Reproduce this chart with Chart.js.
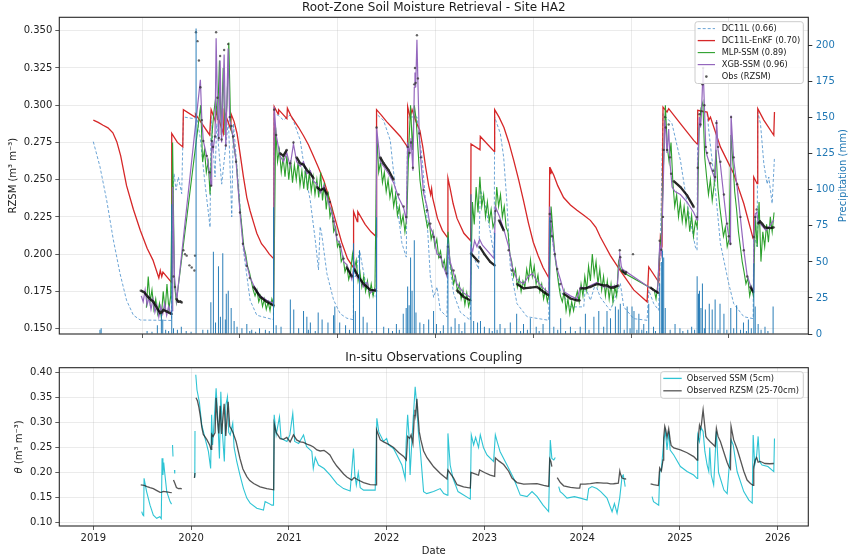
<!DOCTYPE html>
<html><head><meta charset="utf-8">
<script src="https://cdn.jsdelivr.net/npm/chart.js@4.4.1/dist/chart.umd.min.js"></script>
<style>
html,body{margin:0;padding:0;background:#fff;width:851px;height:554px;overflow:hidden;}
canvas{position:absolute;left:0;}
#c1{top:0}
#c2{top:345px}
</style></head><body>
<canvas id="c1" width="851" height="345"></canvas>
<canvas id="c2" width="851" height="209"></canvas>
<script>
// ---------- DATA (decimal year, value) ----------
const yearTicks = [2019, 2020, 2021, 2022, 2023, 2024, 2025, 2026];
const rzsmTicks = [0.150, 0.175, 0.200, 0.225, 0.250, 0.275, 0.300, 0.325, 0.350];
const precipTicks = [0, 25, 50, 75, 100, 125, 150, 175, 200];
const thetaTicks = [0.10, 0.15, 0.20, 0.25, 0.30, 0.35, 0.40];

const dc11l = [
[2019.000,0.2755],[2019.068,0.2587],[2019.136,0.2364],[2019.205,0.2095],[2019.273,0.187],[2019.34,0.169],[2019.41,0.159],[2019.48,0.1558],[2019.80,0.1555],
[2019.812,0.238],[2019.826,0.254],[2019.846,0.243],[2019.87,0.2518],[2019.904,0.2406],[2019.921,0.2921],[2020.024,0.291],[2020.058,0.292],[2020.092,0.2787],[2020.143,0.247],[2020.194,0.218],
[2020.204,0.293],[2020.245,0.2518],[2020.262,0.2876],[2020.313,0.247],[2020.382,0.2898],[2020.416,0.225],[2020.433,0.2876],[2020.484,0.247],[2020.535,0.2026],[2020.604,0.169],[2020.672,0.159],[2020.842,0.156],
[2020.85,0.2945],[2020.894,0.293],[2020.945,0.290],[2021.013,0.2934],[2021.05,0.289],[2021.116,0.2766],[2021.167,0.254],[2021.218,0.2364],[2021.27,0.2095],[2021.303,0.1894],[2021.32,0.2185],[2021.335,0.214],[2021.389,0.187],[2021.457,0.1693],[2021.525,0.160],[2021.593,0.157],[2021.66,0.156],
[2021.662,0.198],[2021.679,0.1847],[2021.723,0.2026],[2021.798,0.1758],[2021.894,0.171],
[2021.897,0.294],[2021.969,0.2898],[2022.037,0.2764],[2022.105,0.234],[2022.157,0.2071],[2022.201,0.198],
[2022.215,0.2921],[2022.31,0.2921],[2022.361,0.2652],[2022.412,0.225],[2022.447,0.1847],[2022.481,0.171],[2022.515,0.178],[2022.549,0.1623],[2022.617,0.1579],
[2022.627,0.2026],[2022.685,0.1735],[2022.754,0.161],[2022.856,0.1556],
[2022.863,0.2026],[2022.94,0.19],[2022.958,0.243],[2023.0,0.236],[2023.06,0.215],[2023.10,0.198],
[2023.105,0.292],[2023.163,0.281],[2023.197,0.2652],[2023.231,0.234],[2023.265,0.1914],[2023.333,0.1668],[2023.436,0.158],[2023.658,0.1556],
[2023.668,0.225],[2023.709,0.2026],[2023.777,0.1758],[2023.879,0.1646],[2024.016,0.1646],[2024.033,0.178],[2024.084,0.169],[2024.135,0.18],[2024.186,0.171],[2024.255,0.165],[2024.288,0.1623],[2024.391,0.1802],[2024.425,0.1646],[2024.527,0.1567],[2024.664,0.1556],
[2024.681,0.1758],[2024.732,0.1668],[2024.783,0.1623],[2024.80,0.2071],[2024.827,0.2943],[2024.919,0.2876],[2025.005,0.263],[2025.073,0.234],[2025.158,0.2048],[2025.175,0.2026],
[2025.182,0.2966],[2025.278,0.2943],[2025.30,0.28],[2025.363,0.2429],[2025.414,0.2071],[2025.499,0.1802],[2025.55,0.1668],[2025.653,0.158],[2025.749,0.1567],
[2025.755,0.2138],[2025.79,0.205],[2025.796,0.2954],[2025.824,0.2876],[2025.858,0.2608],[2025.892,0.247],[2025.909,0.2518],[2025.943,0.234],[2025.967,0.2652]
];

const enkf = [
[2019.000,0.290],[2019.05,0.2885],[2019.10,0.2865],[2019.15,0.2848],[2019.20,0.2815],[2019.24,0.2755],[2019.28,0.266],[2019.34,0.246],[2019.41,0.230],[2019.48,0.216],[2019.55,0.204],[2019.61,0.196],[2019.67,0.184],[2019.685,0.189],[2019.70,0.185],[2019.712,0.188],[2019.80,0.181],
[2019.802,0.281],[2019.86,0.275],[2019.915,0.272],[2019.921,0.297],[2020.04,0.292],[2020.045,0.294],[2020.19,0.280],
[2020.205,0.297],[2020.25,0.289],[2020.256,0.296],[2020.33,0.281],[2020.338,0.296],[2020.405,0.284],[2020.41,0.294],[2020.44,0.289],
[2020.47,0.281],[2020.50,0.268],[2020.535,0.252],[2020.57,0.238],[2020.604,0.229],[2020.64,0.221],[2020.672,0.214],[2020.72,0.207],[2020.757,0.204],[2020.80,0.200],[2020.845,0.197],
[2020.85,0.299],[2020.89,0.294],[2020.895,0.297],[2020.98,0.291],[2020.985,0.298],[2021.02,0.293],[2021.10,0.285],[2021.15,0.2795],[2021.20,0.2735],[2021.25,0.266],[2021.30,0.2585],[2021.36,0.249],[2021.42,0.236],[2021.48,0.222],[2021.54,0.208],[2021.60,0.197],[2021.66,0.191],
[2021.662,0.2285],[2021.70,0.2218],[2021.705,0.2285],[2021.78,0.220],[2021.84,0.215],[2021.895,0.2117],
[2021.897,0.297],[2021.95,0.293],[2022.00,0.289],[2022.07,0.284],[2022.14,0.279],[2022.213,0.272],
[2022.215,0.299],[2022.24,0.292],[2022.26,0.297],[2022.30,0.289],[2022.34,0.283],[2022.37,0.272],[2022.40,0.258],[2022.43,0.246],[2022.45,0.240],[2022.46,0.244],[2022.47,0.238],[2022.52,0.224],[2022.57,0.216],[2022.625,0.211],
[2022.627,0.251],[2022.65,0.244],[2022.68,0.234],[2022.72,0.224],[2022.79,0.214],[2022.86,0.209],
[2022.863,0.274],[2022.955,0.270],[2022.958,0.279],[2023.10,0.269],
[2023.105,0.297],[2023.15,0.292],[2023.20,0.285],[2023.25,0.275],[2023.30,0.263],[2023.35,0.250],[2023.40,0.236],[2023.45,0.221],[2023.50,0.208],[2023.55,0.199],[2023.60,0.191],[2023.66,0.184],
[2023.668,0.2585],[2023.675,0.254],[2023.68,0.257],[2023.71,0.253],[2023.75,0.246],[2023.81,0.238],[2023.88,0.233],[2023.947,0.2295],[2024.02,0.226],[2024.084,0.2227],[2024.14,0.218],[2024.186,0.2115],[2024.24,0.205],[2024.289,0.199],[2024.39,0.189],[2024.527,0.176],[2024.664,0.168],
[2024.681,0.1914],[2024.783,0.1813],[2024.80,0.2115],[2024.817,0.207],[2024.827,0.2988],[2024.868,0.2954],[2024.885,0.2977],[2025.005,0.2876],[2025.141,0.2764],[2025.175,0.274],
[2025.182,0.2966],[2025.278,0.2954],[2025.295,0.290],[2025.312,0.292],[2025.414,0.272],[2025.55,0.254],[2025.653,0.234],[2025.749,0.2104],
[2025.755,0.2518],[2025.789,0.2473],[2025.796,0.2977],[2025.858,0.290],[2025.96,0.2798],[2025.967,0.2954]
];

// MLP-SSM: weekly retrievals (null = no retrieval)
const mlpStart = 2019.485;
const mlpStepDays = 7;
const mlpValues = [
null,null,null,0.164,0.185,0.168,0.176,0.163,0.170,0.160,
0.167,0.158,0.175,0.162,0.180,0.163,0.172,0.275,0.180,0.168,
null,null,null,null,null,null,null,null,null,null,
null,null,0.300,0.262,0.270,0.255,0.262,0.240,0.280,0.295,
0.305,0.290,0.330,0.280,0.325,0.280,0.300,0.342,0.285,0.280,
0.270,0.262,0.245,0.230,0.218,0.205,0.200,0.192,0.188,0.182,
0.176,0.172,0.176,0.168,0.172,0.165,0.170,0.163,0.168,0.162,
0.170,0.166,0.285,0.262,0.270,0.255,0.265,0.252,0.266,0.250,
0.263,0.248,0.260,0.250,0.262,0.246,0.256,0.244,0.258,0.243,
0.255,0.242,0.252,0.240,0.250,0.238,0.255,0.236,0.248,0.230,
0.242,0.225,0.230,0.215,0.218,0.205,0.208,0.195,0.198,0.188,
0.192,0.183,0.188,0.200,0.190,0.196,0.182,0.188,0.178,0.185,
0.175,0.182,0.172,0.180,0.172,0.178,0.280,0.255,0.262,0.248,
0.255,0.242,0.250,0.238,0.245,0.232,0.240,0.226,0.232,0.220,
0.226,0.215,0.225,0.270,0.300,0.270,0.300,0.290,0.270,0.250,
0.240,0.232,0.225,0.218,0.222,0.210,0.215,0.205,0.210,0.198,
0.202,0.192,0.196,0.187,0.215,0.195,0.188,0.180,0.185,0.175,
0.180,0.170,0.176,0.166,0.174,0.165,0.170,0.235,0.220,0.245,
0.228,0.252,0.232,0.240,0.225,0.235,0.222,0.230,0.218,0.222,
0.245,0.232,0.240,0.225,0.232,0.218,0.215,0.200,0.195,0.185,
0.190,0.178,0.184,0.175,0.182,0.178,0.190,0.183,0.196,0.185,
0.192,0.180,0.186,0.175,0.180,0.170,0.176,0.168,0.174,0.232,
0.215,0.200,0.190,0.180,0.172,0.168,0.175,0.162,0.170,0.160,
0.168,0.162,0.170,0.175,0.168,0.180,0.172,0.185,0.176,0.192,
0.182,0.200,0.186,0.195,0.180,0.190,0.176,0.185,0.172,0.182,
0.170,0.180,0.168,0.178,0.172,0.195,0.190,0.188,null,null,
null,null,null,null,null,null,null,null,null,null,
null,null,null,null,0.176,0.170,0.180,0.205,0.215,0.260,
0.300,0.272,0.262,0.275,0.248,0.232,0.240,0.225,0.235,0.222,
0.232,0.220,0.230,0.215,0.226,0.212,0.222,0.218,0.285,0.298,
0.302,0.265,0.252,0.240,0.250,0.236,0.246,0.270,0.245,0.232,
0.222,0.212,0.218,0.205,0.210,0.280,0.262,0.242,0.230,0.215,
0.205,0.195,0.188,0.180,0.184,0.172,0.178,0.172,0.225,0.205,
0.235,0.195,0.215,0.205,0.220,0.208,0.225,0.215,0.228
];

const xgb = [
[2019.49,0.172],[2019.51,0.168],[2019.53,0.176],[2019.55,0.166],[2019.57,0.171],[2019.59,0.163],[2019.61,0.170],[2019.63,0.161],[2019.65,0.166],[2019.67,0.158],[2019.69,0.165],[2019.71,0.160],[2019.73,0.167],[2019.75,0.159],[2019.77,0.165],[2019.79,0.160],[2019.805,0.162],[2019.812,0.245],[2019.83,0.185],[2019.853,0.169],
[2020.095,0.317],[2020.11,0.29],[2020.125,0.276],[2020.16,0.266],[2020.19,0.254],[2020.204,0.246],
[2020.211,0.276],[2020.225,0.270],[2020.245,0.280],[2020.256,0.345],[2020.27,0.300],[2020.283,0.276],[2020.297,0.330],[2020.312,0.275],[2020.338,0.334],[2020.355,0.272],[2020.379,0.338],[2020.395,0.29],[2020.413,0.285],[2020.43,0.278],[2020.46,0.262],[2020.50,0.228],[2020.53,0.207],[2020.57,0.193],[2020.60,0.185],[2020.64,0.179],[2020.706,0.172],[2020.774,0.169],[2020.845,0.167],
[2020.85,0.299],[2020.87,0.28],[2020.91,0.266],[2020.945,0.262],[2020.979,0.268],[2021.013,0.259],[2021.047,0.274],[2021.08,0.262],[2021.116,0.259],[2021.15,0.262],[2021.184,0.254],[2021.22,0.256],[2021.252,0.249],[2021.287,0.247],[2021.32,0.241],[2021.36,0.246],[2021.39,0.238],[2021.42,0.232],[2021.457,0.224],[2021.49,0.21],[2021.525,0.207],[2021.56,0.195],[2021.593,0.193],[2021.644,0.183],[2021.668,0.193],[2021.70,0.184],[2021.73,0.183],[2021.764,0.178],[2021.80,0.181],[2021.832,0.174],[2021.893,0.177],
[2021.897,0.285],[2021.935,0.262],[2021.969,0.259],[2022.02,0.254],[2022.071,0.248],[2022.122,0.238],[2022.174,0.231],[2022.201,0.223],[2022.215,0.275],[2022.235,0.267],[2022.25,0.278],[2022.269,0.256],[2022.283,0.312],[2022.29,0.322],[2022.297,0.312],[2022.31,0.344],[2022.32,0.315],[2022.334,0.279],[2022.35,0.263],[2022.378,0.241],[2022.413,0.232],[2022.447,0.218],[2022.481,0.213],[2022.515,0.20],[2022.549,0.199],[2022.58,0.192],[2022.617,0.185],[2022.627,0.207],[2022.65,0.195],[2022.685,0.187],[2022.72,0.180],[2022.787,0.174],[2022.856,0.171],
[2022.863,0.205],[2022.88,0.202],[2022.90,0.209],[2022.924,0.205],[2022.951,0.210],[2022.98,0.206],[2023.02,0.203],[2023.06,0.200],[2023.10,0.197],
[2023.112,0.232],[2023.15,0.226],[2023.197,0.217],[2023.248,0.205],[2023.282,0.192],[2023.333,0.183],[2023.40,0.180],[2023.45,0.185],[2023.49,0.187],[2023.538,0.182],[2023.606,0.177],[2023.658,0.174],
[2023.668,0.232],[2023.69,0.214],[2023.72,0.200],[2023.745,0.19],[2023.777,0.183],[2023.811,0.175],[2023.88,0.172],[2023.947,0.17],[2023.982,0.178],[2024.03,0.177],[2024.084,0.179],[2024.152,0.181],[2024.22,0.178],[2024.29,0.178],[2024.36,0.179],[2024.385,0.20],[2024.40,0.192],[2024.41,0.19],
[2024.77,0.174],[2024.793,0.206],[2024.81,0.20],[2024.827,0.24],[2024.845,0.29],[2024.855,0.283],[2024.868,0.268],[2024.885,0.284],[2024.90,0.26],[2024.92,0.245],[2024.95,0.242],[2025.005,0.240],[2025.073,0.235],[2025.141,0.228],[2025.175,0.223],[2025.182,0.26],[2025.20,0.292],[2025.21,0.285],[2025.22,0.294],[2025.237,0.325],[2025.25,0.30],[2025.265,0.27],[2025.278,0.266],[2025.312,0.259],[2025.36,0.25],[2025.375,0.29],[2025.39,0.27],[2025.414,0.26],[2025.45,0.238],[2025.482,0.219],[2025.517,0.206],[2025.523,0.293],[2025.55,0.263],[2025.585,0.245],[2025.619,0.224],[2025.653,0.203],[2025.687,0.186],[2025.721,0.179],[2025.749,0.176],[2025.755,0.213],[2025.77,0.227],[2025.785,0.228],[2025.80,0.222],[2025.84,0.219],[2025.88,0.216],[2025.92,0.219],[2025.96,0.223]
];

const obsRZSM = [
[2019.485,0.1755],[2019.52,0.1745],[2019.55,0.172],[2019.58,0.170],[2019.614,0.168],[2019.65,0.164],[2019.683,0.1605],[2019.70,0.161],[2019.716,0.1625],[2019.75,0.1615],[2019.78,0.1605],[2019.802,0.1599],[2019.81,null],
[2019.82,0.185],[2019.835,0.178],[2019.85,0.170],[2019.87,0.168],[2019.89,0.1683],[2019.905,0.1675],[2019.913,null],
[2019.921,0.2026],[2019.93,null],[2019.938,0.200],[2019.946,null],[2019.955,0.199],[2019.97,null],[2019.983,0.1925],[2019.995,null],[2020.006,0.191],[2020.02,null],
[2020.034,0.189],[2020.04,0.199],[2020.045,null],
[2020.05,0.349],[2020.065,0.343],[2020.08,0.330],[2020.095,0.312],[2020.11,0.290],[2020.125,0.276],[2020.16,0.266],[2020.19,0.255],[2020.204,0.246],
[2020.211,0.276],[2020.225,0.272],[2020.245,0.279],[2020.256,0.349],[2020.27,0.305],[2020.283,0.278],[2020.297,0.333],[2020.312,0.277],[2020.338,0.337],[2020.355,0.273],[2020.379,0.341],[2020.395,0.292],[2020.413,0.286],[2020.43,0.279],[2020.46,0.262],[2020.50,0.228],[2020.53,0.207],[2020.57,0.192],[2020.60,0.184],[2020.64,0.178],[2020.706,0.1715],[2020.774,0.168],[2020.845,0.1655],
[2020.85,0.297],[2020.87,0.280],[2020.911,0.2677],[2020.945,0.266],[2020.979,0.270],[2021.013,0.261],[2021.047,0.275],[2021.08,0.265],[2021.116,0.261],[2021.15,0.260],[2021.184,0.2565],[2021.22,0.254],[2021.252,0.251],[2021.287,0.245],[2021.32,0.243],[2021.36,0.244],[2021.39,0.240],[2021.42,0.235],[2021.457,0.222],[2021.49,0.213],[2021.525,0.205],[2021.56,0.197],[2021.593,0.191],[2021.644,0.185],[2021.668,0.190],[2021.70,0.186],[2021.764,0.180],[2021.832,0.176],[2021.893,0.1755],
[2021.897,0.285],[2021.935,0.265],[2021.969,0.261],[2022.02,0.2563],[2022.071,0.250],[2022.122,0.240],[2022.174,0.232],[2022.201,0.225],
[2022.215,0.272],[2022.235,0.268],[2022.25,0.275],[2022.269,0.258],[2022.283,0.314],[2022.29,0.325],[2022.297,0.315],[2022.31,0.347],[2022.32,0.318],[2022.334,0.281],[2022.35,0.265],[2022.378,0.243],[2022.413,0.2295],[2022.447,0.2205],[2022.481,0.2115],[2022.549,0.198],[2022.617,0.187],[2022.627,0.205],[2022.685,0.189],[2022.72,0.1757],[2022.787,0.1713],[2022.856,0.169],
[2022.863,0.2004],[2022.924,0.196],[2022.94,0.195],[2022.951,0.205],[2023.0,0.200],[2023.06,0.1948],[2023.105,0.1925],
[2023.112,0.229],[2023.15,0.2227],[2023.197,0.216],[2023.248,0.2026],[2023.282,0.189],[2023.333,0.180],[2023.402,0.177],[2023.47,0.1775],[2023.538,0.178],[2023.606,0.1746],[2023.658,0.1724],
[2023.668,0.227],[2023.68,0.222],[2023.69,0.212],[2023.70,null],[2023.72,0.200],[2023.73,null],
[2023.745,0.190],[2023.777,0.180],[2023.811,0.1735],[2023.88,0.1702],[2023.947,0.169],[2023.975,0.169],[2023.982,0.177],[2024.03,0.177],[2024.084,0.178],[2024.152,0.180],[2024.22,0.179],[2024.255,0.179],[2024.29,0.1775],[2024.322,0.1776],[2024.37,0.179],[2024.385,0.2026],[2024.39,0.198],[2024.408,0.189],[2024.44,0.187],[2024.45,0.188],[2024.46,null],[2024.52,0.200],[2024.53,null],
[2024.70,0.1775],[2024.73,0.176],[2024.78,0.174],[2024.793,0.209],[2024.81,0.203],[2024.827,0.225],[2024.834,0.27],[2024.845,0.292],[2024.855,0.285],[2024.868,0.270],[2024.885,0.287],[2024.90,0.265],[2024.91,0.254],[2024.937,0.249],[2025.005,0.245],[2025.073,0.2395],[2025.141,0.2317],[2025.175,0.225],
[2025.182,0.258],[2025.20,0.294],[2025.21,0.287],[2025.22,0.296],[2025.23,0.314],[2025.237,0.325],[2025.25,0.30],[2025.265,0.272],[2025.278,0.268],[2025.312,0.261],[2025.34,0.256],[2025.36,0.2518],[2025.373,0.288],[2025.39,0.272],[2025.414,0.262],[2025.45,0.240],[2025.482,0.2205],[2025.50,0.212],[2025.517,0.207],[2025.523,0.292],[2025.55,0.265],[2025.585,0.247],[2025.619,0.225],[2025.653,0.2026],[2025.687,0.185],[2025.721,0.178],[2025.749,0.1746],
[2025.755,0.2115],[2025.77,0.225],[2025.785,0.23],[2025.80,0.2205],[2025.82,0.222],[2025.841,0.2205],[2025.87,0.218],[2025.92,0.2175],[2025.96,0.218]
];

const obsSSM = [
[2019.495,0.122],[2019.505,0.116],[2019.515,0.114],[2019.519,0.1885],[2019.545,0.162],[2019.58,0.135],[2019.614,0.115],[2019.648,0.1087],[2019.68,0.112],[2019.695,0.108],[2019.703,0.2284],[2019.712,0.195],[2019.72,0.22],[2019.73,0.20],[2019.751,0.162],[2019.785,0.142],[2019.80,0.137],[2019.805,null],
[2019.81,0.255],[2019.815,0.232],[2019.82,null],[2019.83,0.205],[2019.833,0.198],[2019.84,null],
[2020.038,0.19],[2020.04,0.283],[2020.044,null],
[2020.048,0.395],[2020.06,0.365],[2020.085,0.34],[2020.109,0.295],[2020.143,0.268],[2020.177,0.242],[2020.2,0.208],[2020.21,0.315],[2020.22,0.255],[2020.235,0.30],[2020.256,0.368],[2020.27,0.32],[2020.29,0.228],[2020.304,0.361],[2020.32,0.28],[2020.34,0.222],[2020.355,0.334],[2020.372,0.351],[2020.385,0.28],[2020.40,0.275],[2020.426,0.298],[2020.44,0.25],[2020.467,0.222],[2020.50,0.195],[2020.536,0.168],[2020.57,0.149],[2020.604,0.139],[2020.672,0.1287],[2020.74,0.125],[2020.757,0.142],[2020.79,0.139],[2020.826,0.135],[2020.843,0.135],
[2020.85,0.315],[2020.87,0.275],[2020.904,0.311],[2020.92,0.268],[2020.98,0.262],[2021.01,0.275],[2021.04,0.318],[2021.06,0.262],[2021.10,0.258],[2021.15,0.275],[2021.18,0.252],[2021.235,0.242],[2021.25,0.208],[2021.27,0.23],[2021.303,0.215],[2021.36,0.208],[2021.423,0.195],[2021.491,0.178],[2021.559,0.168],[2021.627,0.163],[2021.661,0.248],[2021.675,0.195],[2021.69,0.175],[2021.71,0.2],[2021.73,0.17],[2021.764,0.165],[2021.883,0.165],
[2021.9,0.308],[2021.92,0.281],[2021.968,0.262],[2022.0,0.268],[2022.02,0.255],[2022.07,0.248],[2022.105,0.235],[2022.156,0.215],[2022.19,0.188],[2022.2,0.262],[2022.215,0.315],[2022.23,0.27],[2022.24,0.195],[2022.26,0.27],[2022.292,0.371],[2022.31,0.33],[2022.325,0.28],[2022.343,0.248],[2022.378,0.162],[2022.41,0.158],[2022.48,0.162],[2022.548,0.168],[2022.584,0.158],[2022.62,0.155],[2022.627,0.278],[2022.65,0.215],[2022.68,0.188],[2022.73,0.162],[2022.856,0.147],
[2022.866,0.275],[2022.89,0.255],[2022.91,0.27],[2022.94,0.25],[2022.958,0.275],[2022.99,0.25],[2023.026,0.235],[2023.094,0.222],[2023.112,0.275],[2023.13,0.262],[2023.16,0.242],[2023.231,0.215],[2023.30,0.188],[2023.367,0.155],[2023.436,0.152],[2023.487,0.162],[2023.54,0.152],[2023.60,0.135],[2023.657,0.122],[2023.674,0.265],[2023.69,0.228],[2023.71,0.225],[2023.725,0.23],[2023.735,null],
[2023.76,0.172],[2023.775,0.162],[2023.80,0.158],[2023.845,0.149],[2023.92,0.152],[2023.982,0.149],[2024.05,0.145],[2024.067,0.168],[2024.10,0.172],[2024.15,0.168],[2024.19,0.162],[2024.254,0.149],[2024.306,0.122],[2024.33,0.138],[2024.357,0.119],[2024.384,0.149],[2024.408,0.192],[2024.42,0.195],[2024.43,0.185],[2024.44,0.172],[2024.447,null],[2024.455,0.168],[2024.46,null],
[2024.715,0.152],[2024.73,0.142],[2024.783,0.135],[2024.794,0.2018],[2024.81,0.205],[2024.834,0.262],[2024.852,0.282],[2024.868,0.245],[2024.886,0.282],[2024.90,0.245],[2024.937,0.235],[2025.005,0.212],[2025.073,0.202],[2025.14,0.195],[2025.176,0.188],[2025.182,0.275],[2025.20,0.262],[2025.215,0.29],[2025.237,0.282],[2025.255,0.242],[2025.278,0.215],[2025.295,0.202],[2025.305,0.25],[2025.32,0.195],[2025.345,0.175],[2025.373,0.282],[2025.395,0.2],[2025.45,0.165],[2025.483,0.158],[2025.524,0.265],[2025.545,0.255],[2025.585,0.202],[2025.653,0.162],[2025.705,0.145],[2025.739,0.139],[2025.749,0.275],[2025.765,0.215],[2025.785,0.235],[2025.80,0.272],[2025.815,0.222],[2025.84,0.215],[2025.90,0.212],[2025.96,0.2018],[2025.967,0.268]
];

const precipDate = [
2019.068,2019.08,2019.55,2019.60,2019.655,2019.696,2019.71,2019.74,2019.77,2019.802,2019.82,2019.86,2019.90,2019.95,2020.00,
2020.051,2020.12,2020.17,2020.202,2020.228,2020.25,2020.28,2020.30,2020.324,2020.35,2020.36,2020.38,2020.41,2020.44,2020.47,
2020.52,2020.57,2020.60,2020.62,2020.66,2020.70,2020.76,2020.80,2020.843,2020.87,2020.92,2021.015,2021.05,2021.10,2021.15,
2021.184,2021.20,2021.22,2021.27,2021.30,2021.34,2021.40,2021.457,2021.47,2021.52,2021.58,2021.62,2021.661,2021.68,2021.723,
2021.76,2021.80,2021.85,2021.897,2021.97,2022.02,2022.06,2022.10,2022.13,2022.17,2022.20,2022.215,2022.23,2022.245,2022.26,
2022.283,2022.30,2022.34,2022.38,2022.43,2022.48,2022.51,2022.55,2022.58,2022.627,2022.66,2022.70,2022.74,2022.77,2022.80,
2022.863,2022.89,2022.93,2022.96,2023.00,2023.05,2023.08,2023.105,2023.13,2023.16,2023.21,2023.265,2023.33,2023.37,2023.40,
2023.44,2023.47,2023.53,2023.56,2023.60,2023.668,2023.71,2023.75,2023.78,2023.83,2023.88,2023.93,2023.98,2024.033,2024.07,
2024.12,2024.17,2024.22,2024.254,2024.29,2024.34,2024.37,2024.39,2024.43,2024.46,2024.49,2024.51,2024.53,2024.56,2024.58,
2024.61,2024.63,2024.66,2024.681,2024.73,2024.75,2024.793,2024.81,2024.822,2024.834,2024.85,2024.90,2024.95,2025.00,2025.03,
2025.08,2025.12,2025.15,2025.176,2025.19,2025.20,2025.215,2025.23,2025.25,2025.26,2025.30,2025.33,2025.36,2025.39,2025.41,
2025.45,2025.48,2025.52,2025.55,2025.58,2025.62,2025.65,2025.68,2025.70,2025.73,2025.756,2025.77,2025.80,2025.83,2025.87,
2025.90,2025.953
];
const precipMM = [
3,4,2,1.5,6,14,10,3,2,90,4,3,5,2,1.5,
212,3,3,22,57,8,47,12,56,10,28,30,18,9,5,
4,7,2,3,1.5,4,3,2,88,6,5,24,17,4,16,
12,3,8,2,15,10,8,13,19,8,6,3,63,16,58,
12,8,2,81,5,4,2,7,3,14,18,33,20,53,30,
65,15,8,7,10,16,7,2,6,67,5,11,7,2,8,
97,9,8,9,5,4,2,70,3,7,4,8,14,2,7,
3,11,5,2,7,81,5,3,11,2,5,2,5,14,3,
12,16,5,16,11,19,17,21,3,19,4,19,16,3,14,
3,7,2,21,5,2,35,50,58,53,18,3,7,4,2,
3,5,3,40,28,30,18,35,4,17,21,17,24,3,21,
14,3,18,4,20,3,8,2,10,4,49,19,7,3,5,
2,19
];

// ---------- helpers ----------
const XMIN = 2018.652, XMAX = 2026.313;
const toXY = arr => arr.map(p => ({x: p[0], y: p[1]}));
const mlpXY = mlpValues.map((v, i) => ({x: mlpStart + i * mlpStepDays / 365.25, y: v}));
const precipXY = precipDate.map((d, i) => ({x: d, y: precipMM[i]}));
const FONT = '"DejaVu Sans", "Liberation Sans", sans-serif';
const GRID = 'rgba(176,176,176,0.32)';
const steepHide = c => {
  const dx = Math.abs(c.p1.x - c.p0.x), dy = Math.abs(c.p1.y - c.p0.y);
  return (dy > 5 && dy > 2.2 * dx) ? 'rgba(0,0,0,0)' : undefined;
};
const setTicks = arr => s => { s.ticks = arr.map(v => ({value: v})); };

function roundRect(ctx, x, y, w, h, r) {
  ctx.beginPath();
  ctx.moveTo(x + r, y); ctx.lineTo(x + w - r, y); ctx.quadraticCurveTo(x + w, y, x + w, y + r);
  ctx.lineTo(x + w, y + h - r); ctx.quadraticCurveTo(x + w, y + h, x + w - r, y + h);
  ctx.lineTo(x + r, y + h); ctx.quadraticCurveTo(x, y + h, x, y + h - r);
  ctx.lineTo(x, y + r); ctx.quadraticCurveTo(x, y, x + r, y); ctx.closePath();
}

const annot = {
  id: 'annot',
  afterDraw(chart, args, o) {
    const ctx = chart.ctx, a = chart.chartArea;
    ctx.save();
    ctx.strokeStyle = '#262626'; ctx.lineWidth = 1.1;
    ctx.strokeRect(a.left, a.top, a.right - a.left, a.bottom - a.top);
    ctx.fillStyle = '#1a1a1a'; ctx.textAlign = 'center'; ctx.textBaseline = 'middle';
    ctx.font = '12px ' + FONT;
    ctx.fillText(o.title, (a.left + a.right) / 2, o.titleY);
    ctx.font = '10px ' + FONT;
    const yc = (a.top + a.bottom) / 2;
    ctx.save(); ctx.translate(o.yLabelX, yc); ctx.rotate(-Math.PI / 2);
    if (o.yLabelItalic) {
      ctx.font = 'italic 10px ' + FONT;
      const w1 = ctx.measureText(o.yLabelItalic).width;
      ctx.font = '10px ' + FONT;
      const w2 = ctx.measureText(o.yLabel).width;
      ctx.textAlign = 'left';
      ctx.font = 'italic 10px ' + FONT; ctx.fillText(o.yLabelItalic, -(w1 + w2) / 2, 0);
      ctx.font = '10px ' + FONT; ctx.fillText(o.yLabel, -(w1 + w2) / 2 + w1, 0);
    } else ctx.fillText(o.yLabel, 0, 0);
    ctx.restore();
    if (o.y2Label) {
      ctx.save(); ctx.translate(o.y2LabelX, yc); ctx.rotate(-Math.PI / 2);
      ctx.fillStyle = '#1f77b4'; ctx.textAlign = 'center'; ctx.font = '10px ' + FONT;
      ctx.fillText(o.y2Label, 0, 0); ctx.restore();
    }
    if (o.xLabel) { ctx.textAlign = 'center'; ctx.fillText(o.xLabel, (a.left + a.right) / 2, o.xLabelY); }
    const L = o.legend;
    ctx.fillStyle = 'rgba(255,255,255,0.85)'; ctx.strokeStyle = '#cccccc'; ctx.lineWidth = 1;
    roundRect(ctx, L.x, L.y, L.w, L.h, 2.5); ctx.fill(); ctx.stroke();
    ctx.font = '8.3px ' + FONT; ctx.textAlign = 'left'; ctx.textBaseline = 'middle';
    chart.data.datasets.filter(d => d.inLegend).forEach((d, i) => {
      const y = L.row0 + i * L.dy;
      if (d.legendDot) {
        ctx.fillStyle = 'rgba(50,50,50,0.8)';
        ctx.beginPath(); ctx.arc((L.s0 + L.s1) / 2, y, 1.3, 0, Math.PI * 2); ctx.fill();
      } else {
        ctx.strokeStyle = d.borderColor; ctx.lineWidth = d.legendWidth || d.borderWidth;
        ctx.setLineDash(d.borderDash || []);
        ctx.beginPath(); ctx.moveTo(L.s0, y); ctx.lineTo(L.s1, y); ctx.stroke();
        ctx.setLineDash([]);
      }
      ctx.fillStyle = '#1a1a1a'; ctx.fillText(d.label, L.tx, y + 0.5);
    });
    ctx.restore();
  }
};

const tickFont = {family: FONT, size: 10};

// ---------- TOP CHART ----------
new Chart(document.getElementById('c1'), {
  type: 'line',
  plugins: [annot],
  data: { datasets: [
    {label: 'DC11L (0.66)', data: toXY(dc11l), borderColor: 'rgba(60,135,200,0.75)', borderDash: [3, 2], borderWidth: 1, order: 6, inLegend: true},
    {label: 'DC11L-EnKF (0.70)', data: toXY(enkf), borderColor: '#d62728', borderWidth: 1.3, order: 5, inLegend: true},
    {label: 'MLP-SSM (0.89)', data: mlpXY, borderColor: '#2ca02c', borderWidth: 1.1, spanGaps: true, order: 4, inLegend: true},
    {label: 'XGB-SSM (0.96)', data: toXY(xgb), borderColor: '#9467bd', borderWidth: 1.2, order: 3, inLegend: true},
    {label: 'Obs (RZSM)', data: toXY(obsRZSM), borderColor: 'rgba(0,0,0,0.85)', borderWidth: 2.3, pointRadius: 1.2,
      pointBackgroundColor: 'rgba(50,50,50,0.75)', pointBorderWidth: 0, segment: {borderColor: steepHide}, order: 2, inLegend: true, legendDot: true},
    {type: 'bar', label: 'Precipitation', data: precipXY, yAxisID: 'y1', backgroundColor: 'rgba(31,119,180,0.95)',
      barThickness: 1, maxBarThickness: 1, inflateAmount: 0, borderWidth: 0, grouped: false, order: 1}
  ]},
  options: {
    responsive: false, animation: false, devicePixelRatio: 1, events: [],
    layout: {padding: {top: 17.3, left: 0, right: 0, bottom: 0}},
    elements: {point: {radius: 0}, line: {tension: 0}},
    plugins: {legend: {display: false}, tooltip: {enabled: false},
      annot: {title: 'Root-Zone Soil Moisture Retrieval - Site HA2', titleY: 7.8, yLabel: 'RZSM (m³ m⁻³)', yLabelX: 13,
        y2Label: 'Precipitation (mm)', y2LabelX: 843,
        legend: {x: 695, y: 21.7, w: 108.3, h: 61.8, row0: 28.6, dy: 12, s0: 697.7, s1: 715, tx: 721.7}}},
    scales: {
      x: {type: 'linear', min: XMIN, max: XMAX, offset: false, afterBuildTicks: setTicks(yearTicks), afterFit: s => { s.height = 11; },
        ticks: {callback: () => '', autoSkip: false, maxRotation: 0, font: tickFont},
        grid: {color: GRID, tickColor: '#333', tickLength: 4, lineWidth: 0.8}, border: {display: false}},
      y: {position: 'left', min: 0.1464, max: 0.359, afterBuildTicks: setTicks(rzsmTicks), afterFit: s => { s.width = 59.3; },
        ticks: {callback: v => v.toFixed(3), color: '#222', font: tickFont, padding: 3},
        grid: {color: GRID, tickColor: '#333', tickLength: 4, lineWidth: 0.8}, border: {display: false}},
      y1: {position: 'right', min: 0, max: 219.7, afterBuildTicks: setTicks(precipTicks), afterFit: s => { s.width = 42.7; },
        ticks: {callback: v => String(v), color: '#1f77b4', font: tickFont, padding: 3.4},
        grid: {drawOnChartArea: false, tickColor: '#333', tickLength: 4}, border: {display: false}}
    }
  }
});

// ---------- BOTTOM CHART ----------
new Chart(document.getElementById('c2'), {
  type: 'line',
  plugins: [annot],
  data: { datasets: [
    {label: 'Observed SSM (5cm)', data: toXY(obsSSM), borderColor: 'rgba(23,190,207,0.9)', borderWidth: 1.1, order: 2, inLegend: true, legendWidth: 1.3},
    {label: 'Observed RZSM (25-70cm)', data: toXY(obsRZSM), borderColor: 'rgba(30,30,30,0.75)', borderWidth: 1.3, order: 1, inLegend: true}
  ]},
  options: {
    responsive: false, animation: false, devicePixelRatio: 1, events: [],
    layout: {padding: {top: 22.7, left: 0, right: 42.7, bottom: 0}},
    elements: {point: {radius: 0}, line: {tension: 0}},
    plugins: {legend: {display: false}, tooltip: {enabled: false},
      annot: {title: 'In-situ Observations Coupling', titleY: 13.3, yLabelItalic: 'θ', yLabel: ' (m³ m⁻³)', yLabelX: 19.5,
        xLabel: 'Date', xLabelY: 206,
        legend: {x: 660.7, y: 26.7, w: 142.6, h: 26.6, row0: 33.4, dy: 12.4, s0: 663.3, s1: 681.7, tx: 686.7}}},
    scales: {
      x: {type: 'linear', min: XMIN, max: XMAX, offset: false, afterBuildTicks: setTicks(yearTicks), afterFit: s => { s.height = 28; },
        ticks: {callback: v => String(v), autoSkip: false, maxRotation: 0, color: '#222', font: tickFont, padding: 2},
        grid: {color: GRID, tickColor: '#333', tickLength: 4, lineWidth: 0.8}, border: {display: false}},
      y: {position: 'left', min: 0.0934, max: 0.409, afterBuildTicks: setTicks(thetaTicks), afterFit: s => { s.width = 59.3; },
        ticks: {callback: v => v.toFixed(2), color: '#222', font: tickFont, padding: 3},
        grid: {color: GRID, tickColor: '#333', tickLength: 4, lineWidth: 0.8}, border: {display: false}}
    }
  }
});
</script></body></html>
